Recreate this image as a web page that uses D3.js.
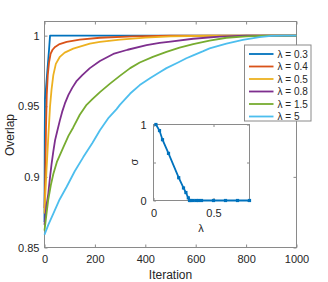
<!DOCTYPE html>
<html>
<head>
<meta charset="utf-8">
<script src="https://cdn.jsdelivr.net/npm/d3@7"></script>
<style>
  body { margin: 0; background: #fff; }
  svg text { font-family: "Liberation Sans", Arial, sans-serif; fill: #262626; }
  .axis path, .axis line { stroke: #8a8a8a; }
</style>
</head>
<body>
<div id="chart"></div>
<script>
//Series labels and colours (MATLAB default order)
var lambdas = ["0.3", "0.4", "0.5", "0.8", "1.5", "5"];
var colors = ["#0072BD", "#D95319", "#EDB120", "#7E2F8E", "#77AC30", "#4DBEEE"];

//Overlap vs iteration
var iter03 = [0, 1, 2, 6, 10, 14, 18, 22, 1000];
var ovl03 = [0.868, 0.93, 0.955, 0.963, 0.972, 0.981, 0.99, 1.0, 1.0];

var iter04 = [0, 3, 6, 9, 13, 18, 24, 32, 42, 60, 88, 140, 220, 350, 500, 600, 1000];
var ovl04 = [0.878, 0.90, 0.935, 0.958, 0.972, 0.981, 0.987, 0.99, 0.992, 0.994, 0.9955, 0.9972, 0.9985, 0.9994, 0.9999, 1.0, 1.0];

var iter05 = [0, 2, 8, 15, 22, 28, 35, 45, 61, 80, 114, 180, 220, 300, 400, 500, 650, 750, 1000];
var ovl05 = [0.874, 0.883, 0.905, 0.928, 0.95, 0.962, 0.972, 0.98, 0.985, 0.988, 0.9908, 0.9944, 0.9955, 0.9972, 0.9986, 0.9994, 0.9999, 1.0, 1.0];

var iter08 = [0, 2, 8, 15, 22, 28, 35, 42, 50, 61, 70, 81, 95, 110, 128, 150, 180, 220, 273, 330, 405, 457, 500, 590, 695, 800, 1000];
var ovl08 = [0.866, 0.87, 0.88, 0.888, 0.90, 0.909, 0.918, 0.926, 0.932, 0.94, 0.946, 0.952, 0.958, 0.963, 0.968, 0.972, 0.977, 0.982, 0.987, 0.990, 0.9932, 0.9948, 0.9958, 0.9978, 0.9993, 1.0, 1.0];

var iter15 = [0, 2, 8, 15, 25, 35, 50, 75, 95, 114, 140, 167, 190, 220, 260, 299, 340, 378, 430, 484, 536, 590, 655, 722, 800, 880, 1000];
var ovl15 = [0.862, 0.865, 0.874, 0.884, 0.894, 0.902, 0.911, 0.921, 0.929, 0.935, 0.944, 0.951, 0.955, 0.960, 0.966, 0.9715, 0.977, 0.981, 0.985, 0.9885, 0.9915, 0.994, 0.9965, 0.9985, 0.9995, 1.0, 1.0];

var iter5 = [0, 2, 15, 35, 60, 88, 120, 154, 190, 220, 255, 286, 299, 340, 378, 420, 457, 484, 530, 563, 590, 630, 655, 722, 787, 853, 900, 950, 1000];
var ovl5 = [0.859, 0.86, 0.866, 0.874, 0.884, 0.893, 0.904, 0.914, 0.924, 0.933, 0.942, 0.948, 0.951, 0.959, 0.965, 0.970, 0.974, 0.977, 0.981, 0.984, 0.986, 0.989, 0.991, 0.9944, 0.997, 0.999, 0.9998, 1.0, 1.0];

var iterSets = [iter03, iter04, iter05, iter08, iter15, iter5];
var ovlSets = [ovl03, ovl04, ovl05, ovl08, ovl15, ovl5];

//Inset: sigma vs lambda
var insetLambda = [0.02, 0.05, 0.075, 0.125, 0.21, 0.25, 0.27, 0.29, 0.3, 0.31, 0.33, 0.355, 0.375, 0.4, 0.5, 0.6, 0.7, 0.8];
var insetSigma = [1.0, 0.92, 0.8, 0.62, 0.3, 0.165, 0.105, 0.035, 0, 0, 0, 0, 0, 0, 0, 0, 0, 0];

//Tick values
var xTicks = [0, 200, 400, 600, 800, 1000];
var yTicks = [0.85, 0.9, 0.95, 1];
var insetXTicks = [0, 0.5];
var insetYTicks = [0, 0.5, 1];

var W = 328, H = 282;

var svg = d3.select("#chart")
  .append("svg")
  .attr("width", W)
  .attr("height", H);

var x = d3.scaleLinear().domain([0, 1000]).range([44.5, 296.5]);
var y = d3.scaleLinear().domain([0.85, 1.01]).range([247.5, 21.5]);

//Main axes
svg.append("g")
  .attr("class", "axis")
  .attr("transform", "translate(0," + y.range()[0] + ")")
  .call(d3.axisBottom(x).tickValues(xTicks).tickSize(-3).tickPadding(7.5).tickFormat(d3.format("d")))
  .call(function(g) { g.select(".domain").remove(); })
  .selectAll("text").style("font-size", "11px");

svg.append("g")
  .attr("class", "axis")
  .attr("transform", "translate(" + x.range()[0] + ",0)")
  .call(d3.axisLeft(y).tickValues(yTicks).tickSize(-3).tickPadding(5).tickFormat(function(d) { return d3.format("")(d); }))
  .call(function(g) { g.select(".domain").remove(); })
  .selectAll("text").style("font-size", "11px");

//Mirror ticks on top and right
svg.append("g")
  .attr("class", "axis")
  .attr("transform", "translate(0," + y.range()[1] + ")")
  .call(d3.axisTop(x).tickValues(xTicks).tickSize(-3).tickFormat(""))
  .call(function(g) { g.select(".domain").remove(); });

svg.append("g")
  .attr("class", "axis")
  .attr("transform", "translate(" + x.range()[1] + ",0)")
  .call(d3.axisRight(y).tickValues(yTicks).tickSize(-3).tickFormat(""))
  .call(function(g) { g.select(".domain").remove(); });

svg.append("rect")
  .attr("x", x.range()[0])
  .attr("y", y.range()[1])
  .attr("width", x.range()[1] - x.range()[0])
  .attr("height", y.range()[0] - y.range()[1])
  .attr("fill", "none")
  .attr("stroke", "#8a8a8a");

//Curves
var line = d3.line()
  .x(function(d) { return x(d[0]); })
  .y(function(d) { return y(d[1]); });

iterSets.forEach(function(its, i) {
  var pts = its.map(function(t, j) { return [t, ovlSets[i][j]]; });
  svg.append("path")
    .datum(pts)
    .attr("d", line)
    .attr("fill", "none")
    .attr("stroke", colors[i])
    .attr("stroke-width", 1.8)
    .attr("stroke-linejoin", "round");
});

//Axis labels
svg.append("text")
  .attr("x", (x.range()[0] + x.range()[1]) / 2)
  .attr("y", 279)
  .attr("text-anchor", "middle")
  .style("font-size", "12px")
  .text("Iteration");

svg.append("text")
  .attr("transform", "translate(13.5,135) rotate(-90)")
  .attr("text-anchor", "middle")
  .style("font-size", "12px")
  .text("Overlap");

//Legend
var legend = svg.append("g").attr("transform", "translate(244.5,45)");
legend.append("rect")
  .attr("width", 66.5)
  .attr("height", 76)
  .attr("fill", "#fff")
  .attr("stroke", "#8a8a8a");

var rows = legend.selectAll(".row")
  .data(lambdas)
  .enter()
  .append("g")
  .attr("class", "row")
  .attr("transform", function(d, i) { return "translate(0," + (9 + i * 12.5) + ")"; });

rows.append("line")
  .attr("x1", 4.5)
  .attr("x2", 29)
  .attr("stroke", function(d, i) { return colors[i]; })
  .attr("stroke-width", 1.8);

rows.append("text")
  .attr("x", 33)
  .attr("dy", "0.35em")
  .style("font-size", "10px")
  .text(function(d) { return "\u03bb = " + d; });

//Inset
var xi = d3.scaleLinear().domain([0, 0.8]).range([153.5, 249.5]);
var yi = d3.scaleLinear().domain([0, 1]).range([200.5, 124.5]);

svg.append("rect")
  .attr("x", xi.range()[0])
  .attr("y", yi.range()[1])
  .attr("width", xi.range()[1] - xi.range()[0])
  .attr("height", yi.range()[0] - yi.range()[1])
  .attr("fill", "#fff")
  .attr("stroke", "#8a8a8a");

svg.append("g")
  .attr("class", "axis")
  .attr("transform", "translate(0," + yi.range()[0] + ")")
  .call(d3.axisBottom(xi).tickValues(insetXTicks).tickSize(-2.5).tickPadding(9).tickFormat(d3.format("")))
  .call(function(g) { g.select(".domain").remove(); })
  .selectAll("text").style("font-size", "11px");

svg.append("g")
  .attr("class", "axis")
  .attr("transform", "translate(" + xi.range()[0] + ",0)")
  .call(d3.axisLeft(yi).tickValues(insetYTicks).tickSize(-2.5).tickPadding(7)
    .tickFormat(function(d) { return d === 0.5 ? "" : d3.format("")(d); }))
  .call(function(g) { g.select(".domain").remove(); })
  .selectAll("text").style("font-size", "11px");

svg.append("g")
  .attr("class", "axis")
  .attr("transform", "translate(" + xi.range()[1] + ",0)")
  .call(d3.axisRight(yi).tickValues(insetYTicks).tickSize(-2.5).tickFormat(""))
  .call(function(g) { g.select(".domain").remove(); });

svg.append("g")
  .attr("class", "axis")
  .attr("transform", "translate(0," + yi.range()[1] + ")")
  .call(d3.axisTop(xi).tickValues(insetXTicks).tickSize(-2.5).tickFormat(""))
  .call(function(g) { g.select(".domain").remove(); });

var insetPts = insetLambda.map(function(l, i) { return [l, insetSigma[i]]; });

svg.append("path")
  .datum(insetPts)
  .attr("d", d3.line().x(function(d) { return xi(d[0]); }).y(function(d) { return yi(d[1]); }))
  .attr("fill", "none")
  .attr("stroke", colors[0])
  .attr("stroke-width", 1.8);

svg.selectAll(".mark")
  .data(insetPts)
  .enter()
  .append("rect")
  .attr("class", "mark")
  .attr("x", function(d) { return xi(d[0]) - 1.6; })
  .attr("y", function(d) { return yi(d[1]) - 1.6; })
  .attr("width", 3.2)
  .attr("height", 3.2)
  .attr("fill", colors[0]);

svg.append("text")
  .attr("x", 201)
  .attr("y", 232)
  .attr("text-anchor", "middle")
  .style("font-size", "11px")
  .text("\u03bb");

svg.append("text")
  .attr("transform", "translate(137.5,162) rotate(-90)")
  .attr("text-anchor", "middle")
  .style("font-size", "11px")
  .text("\u03c3");
</script>
</body>
</html>
